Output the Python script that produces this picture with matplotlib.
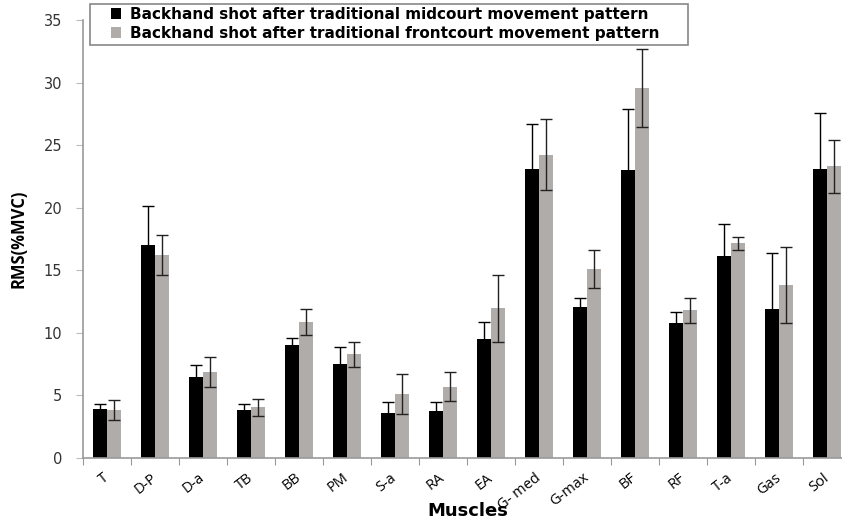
import matplotlib
matplotlib.use("Agg")
import matplotlib.pyplot as plt
from matplotlib.patches import Rectangle
import numpy as np

# muscles on the x axis
muscles = ["T", "D-P", "D-a", "TB", "BB", "PM", "S-a", "RA", "EA",
           "G- med", "G-max", "BF", "RF", "T-a", "Gas", "Sol"]

# mean RMS (%MVC) and SD
midcourt = [3.9, 17.0, 6.45, 3.85, 9.05, 7.55, 3.6, 3.75, 9.5,
            23.1, 12.05, 23.0, 10.75, 16.15, 11.9, 23.1]
midcourt_sd = [0.45, 3.1, 1.0, 0.45, 0.5, 1.35, 0.9, 0.75, 1.35,
               3.6, 0.7, 4.85, 0.95, 2.55, 4.45, 4.5]
frontcourt = [3.85, 16.2, 6.85, 4.05, 10.85, 8.3, 5.15, 5.7, 11.95,
              24.25, 15.1, 29.55, 11.8, 17.15, 13.8, 23.3]
frontcourt_sd = [0.8, 1.6, 1.2, 0.7, 1.05, 1.0, 1.6, 1.15, 2.7,
                 2.85, 1.55, 3.1, 1.0, 0.5, 3.05, 2.15]

label_mid = "Backhand shot after traditional midcourt movement pattern"
label_front = "Backhand shot after traditional frontcourt movement pattern"

fig = plt.figure(figsize=(8.42, 5.21), dpi=100)
ax = fig.add_axes([83 / 842, 63 / 521, (851 - 83) / 842, (458 - 20) / 521])

x = np.arange(len(muscles))
w = 0.29
gray = "#b0acaa"

ax.bar(x - w / 2, midcourt, w, color="black", label=label_mid, zorder=2)
ax.bar(x + w / 2, frontcourt, w, color=gray, label=label_front, zorder=2)
ax.errorbar(x - w / 2, midcourt, yerr=midcourt_sd, fmt="none",
            ecolor="black", elinewidth=1, capsize=4, capthick=1, zorder=3)
ax.errorbar(x + w / 2, frontcourt, yerr=frontcourt_sd, fmt="none",
            ecolor="#222222", elinewidth=1, capsize=4, capthick=1, zorder=3)

ax.set_xlim(-0.5, len(muscles) - 0.5)
ax.set_ylim(0, 35)
ax.set_yticks(np.arange(0, 36, 5))
ax.set_yticklabels([str(v) for v in range(0, 36, 5)],
                   fontsize=10.5, color="#333333", family="DejaVu Sans")

# category boundary ticks on x, labels at centers
ax.set_xticks(np.arange(len(muscles) + 1) - 0.5)
ax.set_xticklabels([])
ax.set_xticks(x, minor=True)
ax.set_xticklabels(muscles, minor=True, rotation=38, ha="right", va="center",
                   rotation_mode="anchor", fontsize=10.5, family="Open Sans")
ax.tick_params(axis="x", which="minor", length=0, pad=13)
ax.tick_params(axis="x", which="major", length=5, color="#999999")
ax.tick_params(axis="y", length=5, color="#bbbbbb", pad=10)

for side in ["top", "right"]:
    ax.spines[side].set_visible(False)
for side in ["left", "bottom"]:
    ax.spines[side].set_color("#999999")
    ax.spines[side].set_linewidth(1.2)

ax.set_ylabel("RMS(%MVC)", fontsize=12, fontweight="bold",
              family=["Liberation Sans Narrow", "Open Sans"])
ax.yaxis.set_label_coords(-0.072, 0.5)

fig.text(468 / 842, 1 - 511 / 521, "Muscles", ha="center", va="center",
         fontsize=13, fontweight="bold", family="DejaVu Sans")

# legend without frame, box drawn separately to get the wide padding
leg = fig.legend(loc="upper left", bbox_to_anchor=(106 / 842, 1 - 2 / 521),
                 borderaxespad=0, frameon=False,
                 prop={"family": "DejaVu Sans", "weight": "bold", "size": 11},
                 handlelength=0.7, handleheight=0.7, handletextpad=0.6,
                 labelspacing=0.3, borderpad=0.3)
leg.set_zorder(6)
box = Rectangle((90 / 842, 1 - 45 / 521), (688 - 90) / 842, 41 / 521,
                transform=fig.transFigure, facecolor="white",
                edgecolor="#888888", linewidth=1.2, zorder=5)
fig.add_artist(box)

fig.savefig("out.png", dpi=100)
